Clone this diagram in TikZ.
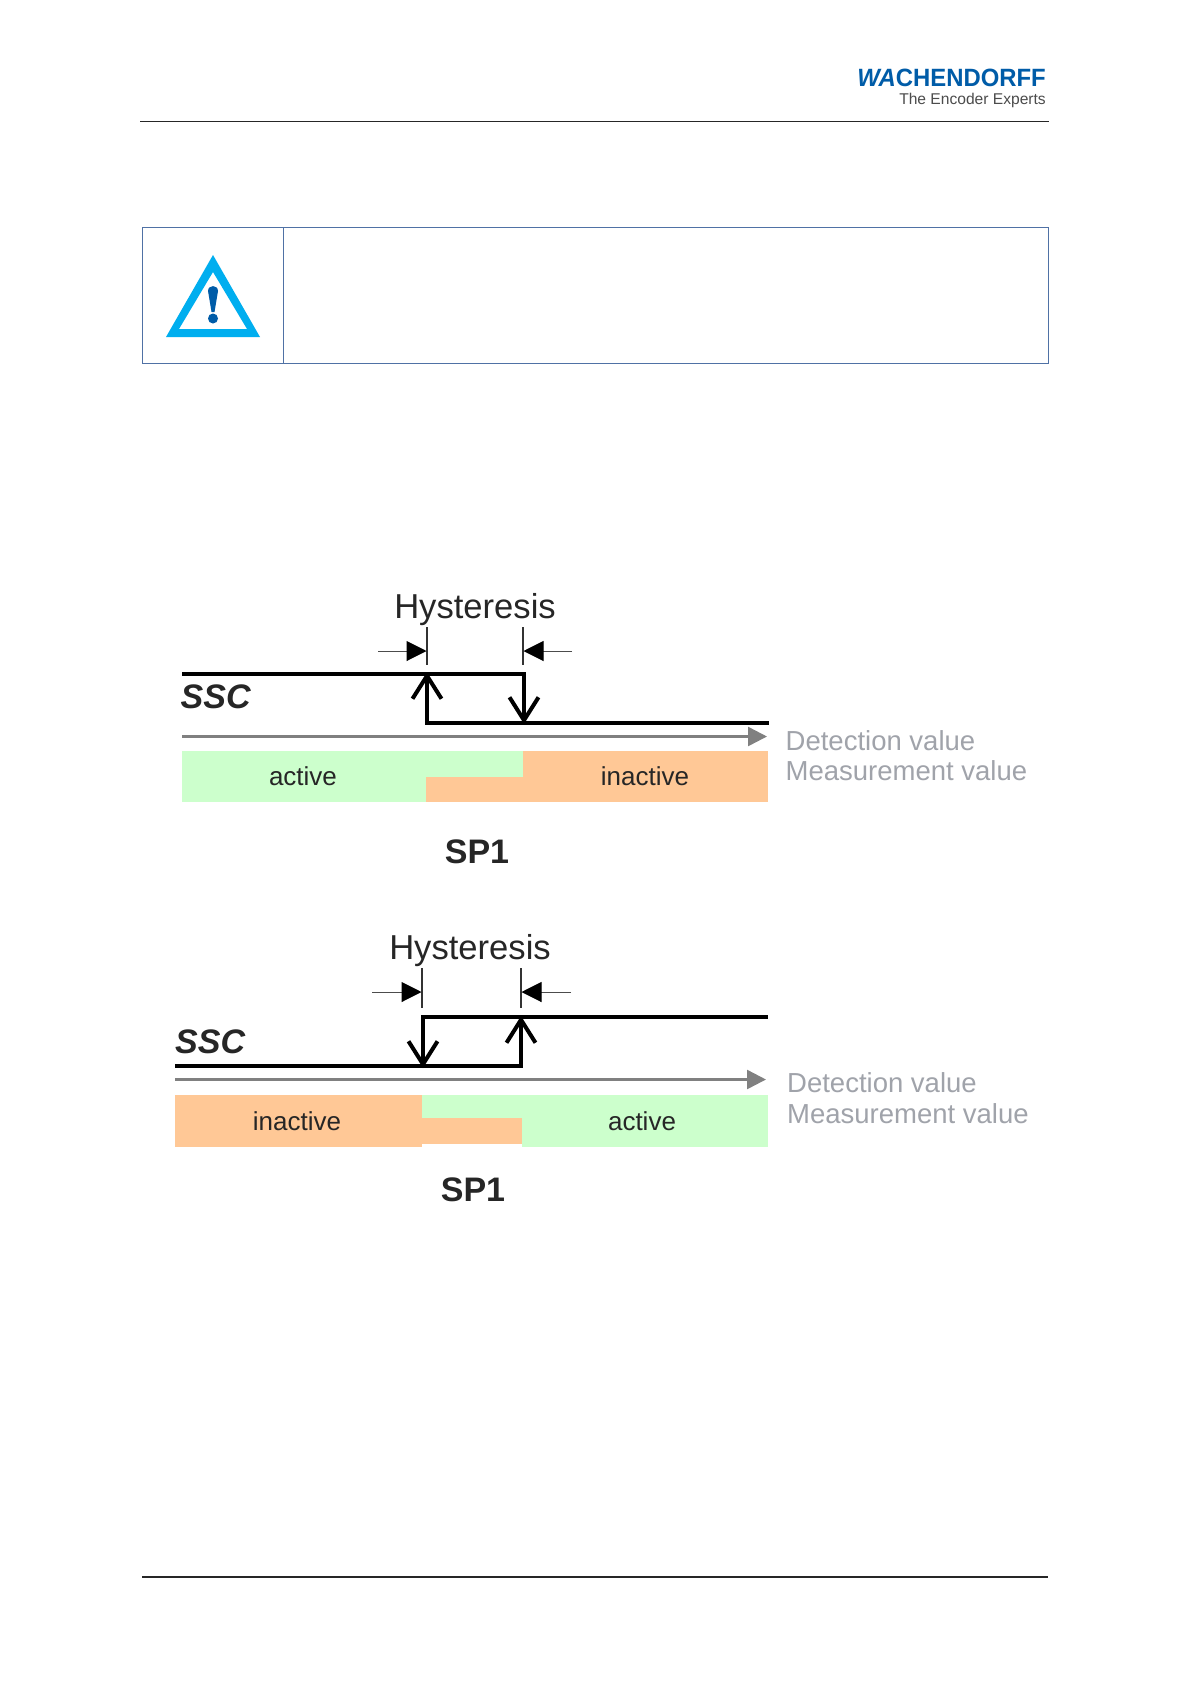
\documentclass[tikz,border=0pt]{standalone}
\usepackage{fontspec}
\setmainfont{Liberation Sans}
\usetikzlibrary{arrows.meta}
\definecolor{rulecol}{RGB}{79,113,165}
\definecolor{logoblue}{RGB}{0,92,168}
\definecolor{warncyan}{RGB}{0,174,239}
\definecolor{activecol}{RGB}{204,255,204}
\definecolor{inactivecol}{RGB}{255,200,150}
\definecolor{axisgray}{RGB}{128,128,128}
\definecolor{valuegray}{RGB}{160,163,170}
\tikzset{
    txt/.style={anchor=base,inner sep=0pt,text=black!85},
    big/.style={txt,font=\fontsize{34.6}{34.6}\selectfont},
    bigb/.style={txt,font=\fontsize{34}{34}\selectfont\bfseries},
    state/.style={txt,font=\fontsize{26}{26}\selectfont},
    value/.style={anchor=base west,inner sep=0pt,text=valuegray,font=\fontsize{27.5}{27.5}\selectfont},
    signal/.style={line width=4pt,line join=miter},
    jump/.style={line width=4pt,-{Straight Barb[length=23pt,width=29pt,line width=4pt]}},
    tick/.style={line width=1.3pt,black!80},
    dim/.style={line width=1pt,black!70,-{Triangle[length=20pt,width=20pt,black]}},
    axis/.style={line width=2.5pt,axisgray,-{Triangle[length=19pt,width=19pt]}}
}
\begin{document}
\begin{tikzpicture}[x=1pt,y=-1pt]
    \useasboundingbox (0,0) rectangle (1191,1684);
    \fill[white] (0,0) rectangle (1191,1684);

    % page head and foot
    \draw[line width=1.2pt,black!85] (140,121.5) -- (1049,121.5);
    \draw[line width=1.2pt,black!85] (142,1577) -- (1048,1577);
    \node (logo) [anchor=base east,inner sep=0pt,text=logoblue,font=\fontsize{25}{25}\selectfont\bfseries]
        at (1046,86) {\scalebox{0.955}[1]{\textit{WA}CHENDORFF}};
    \node (slogan) [anchor=base east,inner sep=0pt,text=black!70,font=\fontsize{15.6}{15.6}\selectfont]
        at (1046,104) {The Encoder Experts};

    % warning box
    \draw[line width=1pt,rulecol] (142.5,227.5) rectangle (1048.5,363.5);
    \draw[line width=1pt,rulecol] (283.5,227.5) -- (283.5,363.5);
    \fill[warncyan,even odd rule] (213,255) -- (260,337) -- (166,337) -- cycle
        (213,272) -- (247,329) -- (179,329) -- cycle;
    \fill[logoblue] (208,291) .. controls (208,284.5) and (218,284.5) .. (218,291) -- (214.5,312) -- (211.5,312) -- cycle;
    \fill[logoblue] (213,318.5) circle (5);

    % upper picture: bars first
    \fill[activecol] (182,750.5) rectangle (523,776.5);
    \fill[activecol] (182,776.5) rectangle (426,801.5);
    \fill[inactivecol] (523,750.5) rectangle (768,776.5);
    \fill[inactivecol] (426,776.5) rectangle (768,801.5);
    \draw[axis] (182,736.5) -- (767,736.5);
    \draw[signal] (182,673.5) -- (526,673.5);
    \draw[signal] (425,722.5) -- (769,722.5);
    \draw[jump] (427,724) -- (427,672);
    \draw[jump] (524,672) -- (524,724);
    \draw[tick] (427,627) -- (427,665);
    \draw[tick] (523,627) -- (523,665);
    \draw[dim] (378,651) -- (426.5,651);
    \draw[dim] (572,651) -- (523.5,651);
    \node (hystA) [big] at (475,618) {Hysteresis};
    \node (sscA) [bigb,anchor=base west] at (180.5,708) {\textit{SSC}};
    \node (activeA) [state] at (303,785) {active};
    \node (inactiveA) [state] at (645,785) {inactive};
    \node (spA) [bigb] at (477,863) {SP1};
    \node (detectA) [value] at (785.5,750) {Detection value};
    \node (measureA) [value] at (785.5,780) {Measurement value};

    % lower picture
    \fill[inactivecol] (175,1095) rectangle (422,1147);
    \fill[inactivecol] (422,1118) rectangle (522,1144);
    \fill[activecol] (422,1095) rectangle (768,1118);
    \fill[activecol] (522,1118) rectangle (768,1147);
    \draw[axis] (175,1079.5) -- (766,1079.5);
    \draw[signal] (421,1017) -- (768,1017);
    \draw[signal] (175,1066) -- (523,1066);
    \draw[jump] (423,1016) -- (423,1068);
    \draw[jump] (521,1068) -- (521,1016);
    \draw[tick] (422,968) -- (422,1008);
    \draw[tick] (521,968) -- (521,1008);
    \draw[dim] (372,992) -- (421.5,992);
    \draw[dim] (571,992) -- (521.5,992);
    \node (hystB) [big] at (470,959) {Hysteresis};
    \node (sscB) [bigb,anchor=base west] at (175,1053) {\textit{SSC}};
    \node (inactiveB) [state] at (297,1130) {inactive};
    \node (activeB) [state] at (642,1130) {active};
    \node (spB) [bigb] at (473,1201) {SP1};
    \node (detectB) [value] at (787,1092) {Detection value};
    \node (measureB) [value] at (787,1123) {Measurement value};
\end{tikzpicture}
\end{document}
